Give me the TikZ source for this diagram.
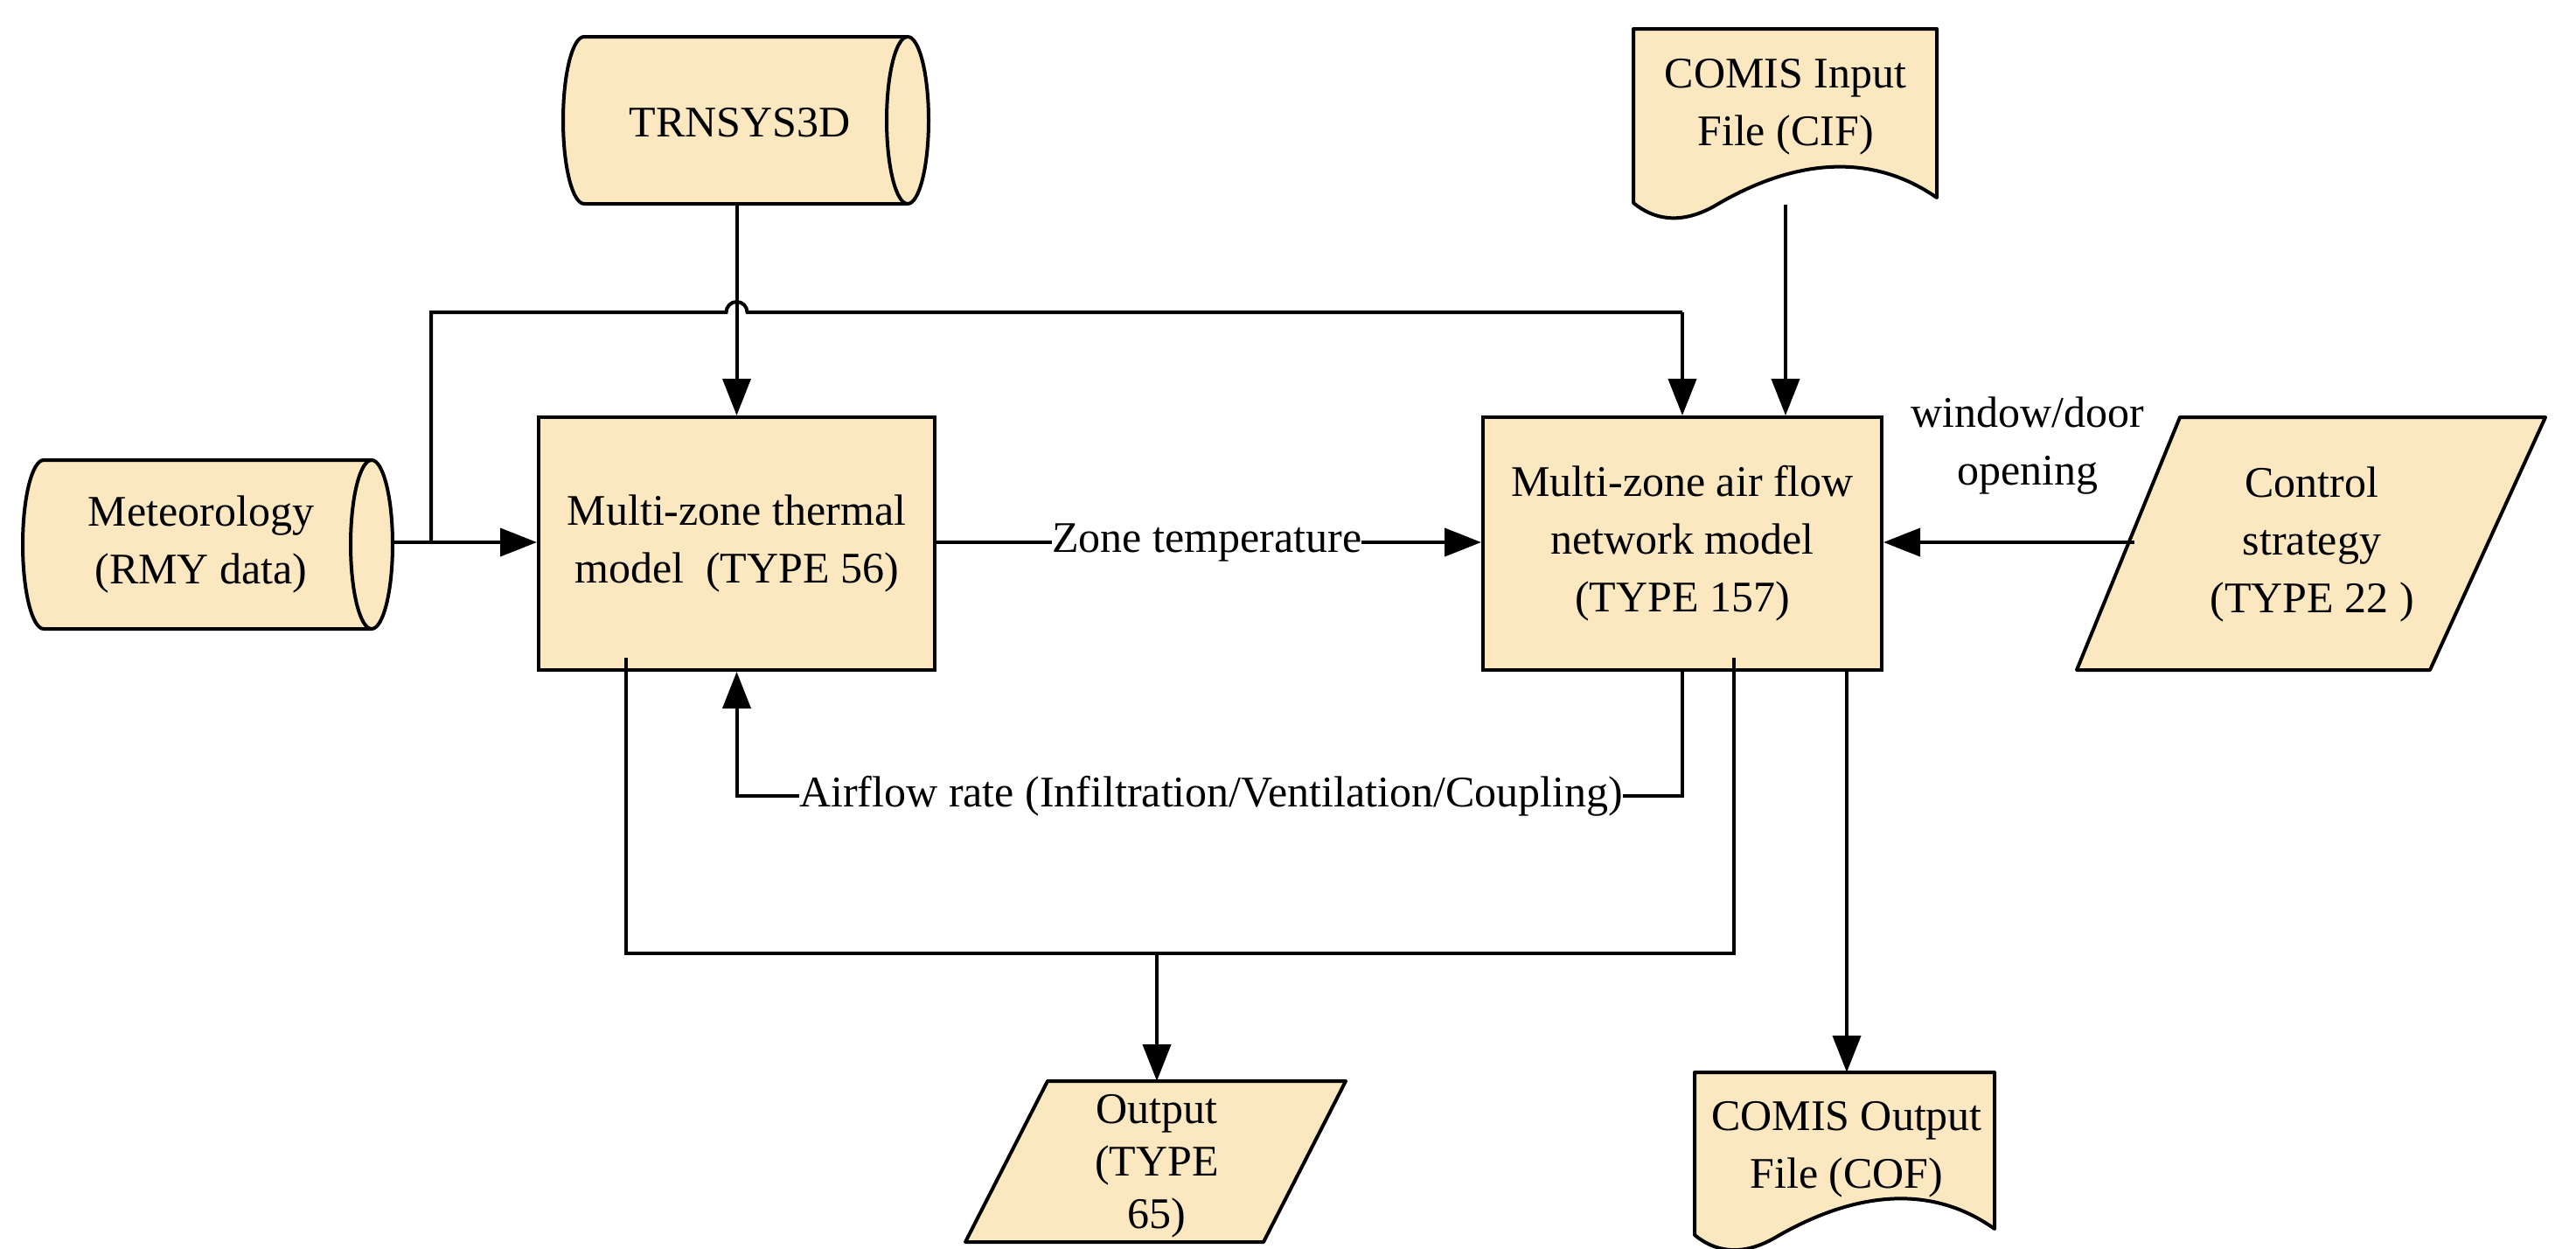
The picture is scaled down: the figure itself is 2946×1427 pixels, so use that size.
\documentclass[tikz,border=0pt]{standalone}
\usepackage{fontspec}
\setmainfont{Liberation Serif}
\usetikzlibrary{arrows.meta}
\definecolor{fillc}{RGB}{251,232,192}
\begin{document}
\begin{tikzpicture}[x=1pt,y=-1pt,
  every node/.style={font=\fontsize{50}{66}\selectfont, align=center, inner sep=0pt},
  box/.style={draw, fill=fillc, line width=4pt, rectangle},
  shp/.style={draw, fill=fillc, line width=4pt, line join=round},
  ln/.style={line width=4pt},
  arr/.style={line width=4pt, -{Triangle[length=42pt,width=32pt]}},
  hidden/.style={rectangle, draw=none}]
\useasboundingbox (0,0) rectangle (2946,1427);
\newcommand\mycyl[5]{% x0 y0 x1 y1 rx
  \pgfmathsetmacro\ry{(#4-#2)/2}
  \draw[shp] (#1+#5,#2) -- (#3-#5,#2) arc[start angle=-90,end angle=90,x radius=#5,y radius=\ry]
    -- (#1+#5,#4) arc[start angle=90,end angle=270,x radius=#5,y radius=\ry] -- cycle;
  \draw[ln] (#3-#5,#2) arc[start angle=-90,end angle=-270,x radius=#5,y radius=\ry];}
% cylinders
\mycyl{644}{42}{1062}{233}{24}
\node[hidden, minimum width=418pt, minimum height=191pt] (trn) at (853,137.5) {};
\node at (846,140) {TRNSYS3D};
\mycyl{26}{526}{449}{719}{24}
\node[hidden, minimum width=423pt, minimum height=193pt] (met) at (237.5,622.5) {};
\node at (230,622.5) {Meteorology\\(RMY data)};
% process boxes
\node[box, minimum width=453pt, minimum height=289pt] (therm) at (842.5,621.5) {Multi-zone thermal\\model\ \ (TYPE 56)};
\node[box, minimum width=456pt, minimum height=289pt] (air) at (1924,621.5) {Multi-zone air flow\\network model\\(TYPE 157)};
% documents
\draw[shp] (1868,33) -- (2215,33) -- (2215,226) .. controls (2120,160) and (2020,200) .. (1960,236) .. controls (1920,258) and (1890,250) .. (1868,232) -- cycle;
\node (cif) at (2042,122) {COMIS Input\\File (CIF)};
\draw[shp] (1938,1226) -- (2281,1226) -- (2281,1405) .. controls (2190,1340) and (2090,1380) .. (2030,1415) .. controls (1990,1438) and (1960,1430) .. (1938,1412) -- cycle;
\node (cof) at (2112,1314) {COMIS Output\\File (COF)};
% parallelograms
\draw[shp] (2493,477) -- (2911,477) -- (2779,766) -- (2375,766) -- cycle;
\node (ctl) at (2644,622) {Control\\strategy\\(TYPE 22 )};
\draw[shp] (1198,1236) -- (1539,1236) -- (1445,1420) -- (1104,1420) -- cycle;
\node[font=\fontsize{50}{60}\selectfont] (out) at (1323,1333) {Output\\(TYPE\\65)};
\coordinate (outtop) at (1323,1236);
\coordinate (coftop) at (2112,1226);
\coordinate (cifbot) at (2042,234);
\coordinate (ctlw) at (2441,620);
% connectors
\draw[arr] (trn.south -| therm.north) -- (therm.north);
\draw[arr] (met.east |- 0,620) -- (therm.west |- 0,620);
\draw[ln] (493,620) -- (493,357) -- (830.5,357) arc[start angle=180,end angle=360,radius=12] -- (1924,357);
\draw[arr] (1924,357) -- (air.north -| 1924,0);
\draw[arr] (cifbot) -- (air.north -| cifbot);
\draw[ln] (therm.east |- 0,620) -- (1203,620);
\node[anchor=west] (zt) at (1203,620) {Zone temperature};
\draw[arr] (zt.east) -- (air.west |- zt.east);
\draw[arr] (ctlw) -- (air.east |- ctlw);
\node (wd) at (2319,510) {window/door\\opening};
\node (af) at (1385,910) {Airflow rate (Infiltration/Ventilation/Coupling)};
\draw[ln] (air.south -| 1924,0) -- (1924,910) -- (af.east);
\draw[arr] (af.west) -- (therm.south |- af.west) -- (therm.south);
\draw[ln] (716,752) -- (716,1090) -- (1983,1090) -- (1983,752);
\draw[arr] (1323,1090) -- (outtop);
\draw[arr] (air.south -| coftop) -- (coftop);
\end{tikzpicture}
\end{document}
